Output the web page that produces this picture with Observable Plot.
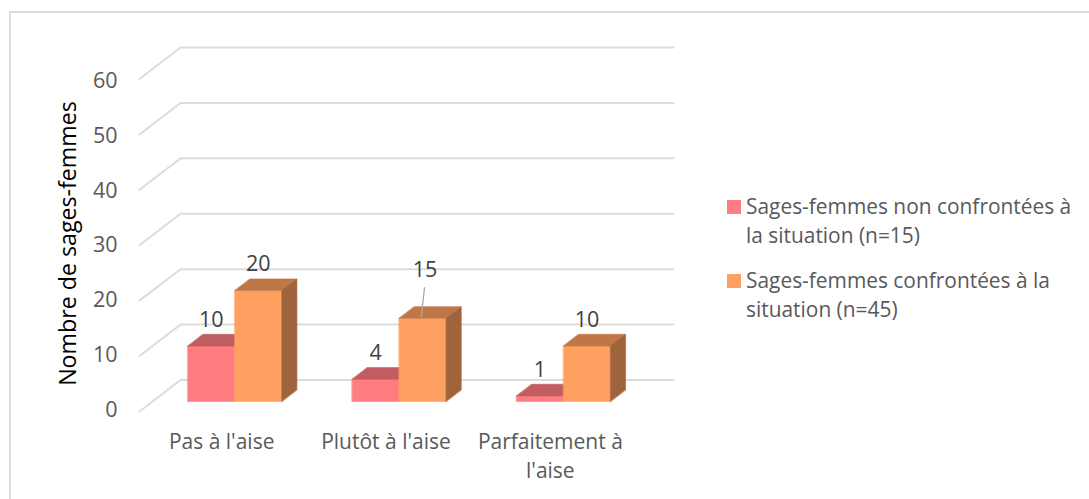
<!DOCTYPE html>
<html>
<head>
<meta charset="utf-8">
<script src="https://cdn.jsdelivr.net/npm/d3@7"></script>
<script src="https://cdn.jsdelivr.net/npm/@observablehq/plot@0.6"></script>
<style>
  html, body { margin: 0; padding: 0; background: #fff; }
  #wrap { position: relative; width: 1089px; height: 499px; overflow: hidden; }
  #border { position: absolute; left: 9px; top: 11px; width: 1200px; height: 600px; border: 2px solid #dcdcdc; box-sizing: border-box; }
  #chart { position: absolute; left: 0; top: 0; }
  #chart svg { background: transparent !important; }
  .leg { position: absolute; left: 746px; width: 340px; font: 20.9px/29px "Open Sans", sans-serif; color: #595959; white-space: pre; }
  .sw { position: absolute; left: 727px; width: 14px; height: 14px; }
</style>
</head>
<body>
<div id="wrap">
  <div id="border"></div>
  <div id="chart"></div>
</div>
<script>
const categories = ["Pas à l'aise", "Plutôt à l'aise", "Parfaitement à\nl'aise"];
const seriesNames = ["Sages-femmes non confrontées à\nla situation (n=15)", "Sages-femmes confrontées à la\nsituation (n=45)"];
const nonConfrontees = [10, 4, 1];
const confrontees = [20, 15, 10];
const yTicks = [0, 10, 20, 30, 40, 50, 60];
const frontColors = ["#FF7C80", "#FF9F60"];
const topColors = ["#BF5D60", "#BF7748"];
const sideColor = "#A0643C";

const font = '"Open Sans", sans-serif';
const depthX = 0.2495, depthY = 5.68;          // oblique projection, in scale units
const barW = 1 / 3.5, z0 = 0.32, z1 = 0.69;
const proj = (x, v, z) => ({x: x + z * depthX, y: v + z * depthY});

const polys = [];
const labels = [];
[nonConfrontees, confrontees].forEach((vals, s) => {
  vals.forEach((v, i) => {
    const xa = i + 0.5 - barW + s * barW, xb = xa + barW;
    polys.push({id: `f${s}${i}`, fill: frontColors[s], pts: [[xa,0,z0],[xb,0,z0],[xb,v,z0],[xa,v,z0]], order: s * 2});
    polys.push({id: `t${s}${i}`, fill: topColors[s], pts: [[xa,v,z0],[xb,v,z0],[xb,v,z1],[xa,v,z1]], order: s * 2});
    if (s === 1) polys.push({id: `s${s}${i}`, fill: sideColor, pts: [[xb,0,z0],[xb,v,z0],[xb,v,z1],[xb,0,z1]], order: s * 2});
    labels.push({...proj((xa + xb) / 2, v, z0), v, s, i});
  });
});
const faceRows = polys.sort((a, b) => a.order - b.order).flatMap(p =>
  p.pts.map(([x, v, z]) => ({id: p.id, fill: p.fill, ...proj(x, v, z)})));

const gridRows = yTicks.flatMap(v => [
  {v, ...proj(0, v, 0)}, {v, ...proj(0, v, 1)}, {v, ...proj(3, v, 1)}
]);

const moved = d => d.s === 1 && d.i === 1;
const leader = labels.filter(moved);

const plot = Plot.plot({
  width: 1089, height: 499,
  marginLeft: 139, marginRight: 416, marginTop: 47, marginBottom: 88,
  x: {domain: [0, 3 + depthX], axis: null},
  y: {domain: [0, 60 + depthY], axis: null},
  style: {background: "transparent", fontFamily: font},
  marks: [
    Plot.line(gridRows, {x: "x", y: "y", z: "v", stroke: "#dcdcdc", strokeWidth: 2}),
    Plot.text(yTicks, {x: 0, y: d => d * 0.9886, text: d => d, textAnchor: "end", dx: -22, dy: -1.7, fontSize: 21.5, fill: "#595959"}),
    Plot.axisX([0.5, 1.5, 2.5], {anchor: "bottom", tickSize: 0, tickPadding: 17, fontSize: 21, fill: "#595959", lineHeight: 1.38, label: null, lineAnchor: "top", tickFormat: (d, i) => categories[i]}),
    Plot.line(faceRows, {x: "x", y: "y", z: "id", fill: "fill", stroke: "fill", strokeWidth: 0.6, curve: "linear-closed"}),
    Plot.link(leader, {x1: d => d.x - 0.009, y1: d => d.y + 0.2, x2: d => d.x + 0.0123, y2: d => d.y + 5.6, stroke: "#a6a6a6", strokeWidth: 1.3}),
    Plot.text(labels.filter(d => !moved(d)), {x: "x", y: "y", text: "v", dy: -26, fontSize: 21.5, fill: "#404040"}),
    Plot.text(leader, {x: "x", y: "y", text: "v", dy: -48, dx: 2.5, fontSize: 21.5, fill: "#404040"}),
    Plot.text(["Nombre de sages-femmes"], {frameAnchor: "left", textAnchor: "middle", dx: -71, dy: 14, rotate: -90, fontSize: 23.2, fill: "#000"})
  ]
});
document.getElementById("chart").append(plot);

const wrap = document.getElementById("wrap");
[[200, 192], [274, 266]].forEach(([swTop, txtTop], s) => {
  const sw = document.createElement("div");
  sw.className = "sw"; sw.style.top = swTop + "px"; sw.style.background = frontColors[s];
  const t = document.createElement("div");
  t.className = "leg"; t.style.top = txtTop + "px"; t.textContent = seriesNames[s];
  wrap.append(sw, t);
});
</script>
</body>
</html>
